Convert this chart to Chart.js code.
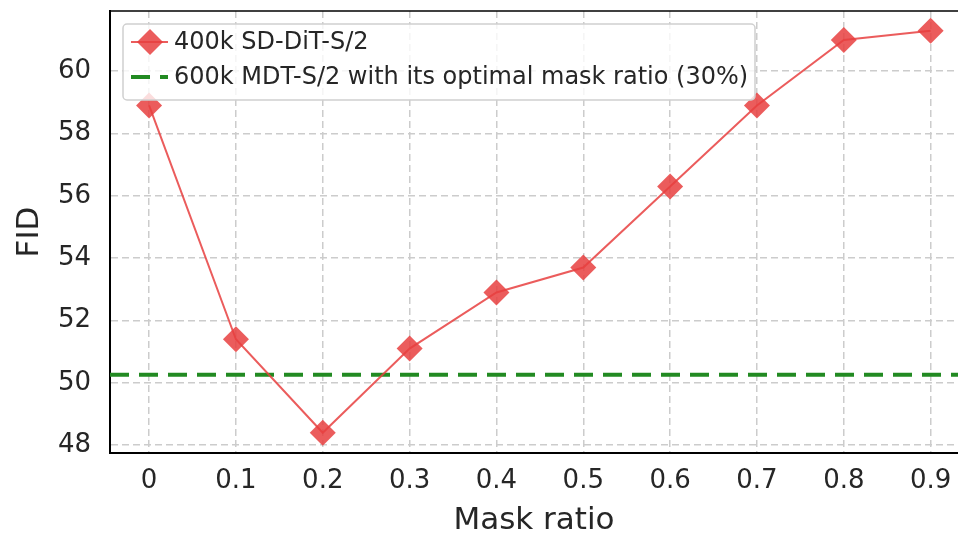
<!DOCTYPE html>
<html lang="en">
<head>
<meta charset="UTF-8">
<title>FID vs mask ratio</title>
<script src="https://cdn.jsdelivr.net/npm/chart.js"></script>
<style>
  html, body { margin: 0; padding: 0; background: #fff; }
  #wrap { width: 958px; height: 536px; }
</style>
</head>
<body>
<div id="wrap"><canvas id="fid-chart" width="958" height="536"></canvas></div>
<script>
// data
const maskRatios = [0, 0.1, 0.2, 0.3, 0.4, 0.5, 0.6, 0.7, 0.8, 0.9];
const sdditFid = [58.9, 51.4, 48.4, 51.1, 52.9, 53.7, 56.3, 58.9, 61.0, 61.3];
const mdtFid = 50.26;
const xTicks = [0, 0.1, 0.2, 0.3, 0.4, 0.5, 0.6, 0.7, 0.8, 0.9];
const yTicks = [48, 50, 52, 54, 56, 58, 60];
const seriesNames = ['400k SD-DiT-S/2', '600k MDT-S/2 with its optimal mask ratio (30%)'];

const X_MIN = -0.045, X_MAX = 0.9315;
const Y_MIN = 47.75, Y_MAX = 61.93;

const red = 'rgba(232, 64, 64, 0.85)';
const green = '#228a22';
const fontFam = '"DejaVu Sans", sans-serif';
const textColor = '#262626';

// top spine + legend box inside the plot
const framePlugin = {
  id: 'frame',
  afterDraw(chart) {
    const ctx = chart.ctx;
    const a = chart.chartArea;
    ctx.save();
    ctx.strokeStyle = '#000';
    ctx.lineWidth = 1.5;
    ctx.beginPath();
    ctx.moveTo(a.left, a.top);
    ctx.lineTo(a.right, a.top);
    ctx.stroke();

    // legend
    const bx = 123, by = 24, bw = 632, bh = 76;
    ctx.fillStyle = 'rgba(255,255,255,0.8)';
    ctx.strokeStyle = '#d0d0d0';
    ctx.lineWidth = 1.5;
    ctx.beginPath();
    ctx.roundRect(bx, by, bw, bh, 4);
    ctx.fill();
    ctx.stroke();

    ctx.font = '24px ' + fontFam;
    ctx.fillStyle = textColor;
    ctx.textBaseline = 'middle';
    const rows = [42, 77];
    ctx.fillText(seriesNames[0], 174, rows[0] + 1);
    ctx.fillText(seriesNames[1], 174, rows[1] + 1);

    // red sample
    ctx.strokeStyle = red;
    ctx.lineWidth = 2;
    ctx.beginPath();
    ctx.moveTo(131, rows[0]);
    ctx.lineTo(168, rows[0]);
    ctx.stroke();
    ctx.fillStyle = red;
    ctx.beginPath();
    ctx.moveTo(150, rows[0] - 13);
    ctx.lineTo(163, rows[0]);
    ctx.lineTo(150, rows[0] + 13);
    ctx.lineTo(137, rows[0]);
    ctx.closePath();
    ctx.fill();

    // green sample
    ctx.strokeStyle = green;
    ctx.lineWidth = 4;
    ctx.setLineDash([19, 10]);
    ctx.beginPath();
    ctx.moveTo(131, rows[1]);
    ctx.lineTo(168, rows[1]);
    ctx.stroke();
    ctx.restore();
  }
};

const config = {
  type: 'line',
  data: {
    datasets: [{
      label: seriesNames[1],
      data: [{ x: X_MIN, y: mdtFid }, { x: X_MAX, y: mdtFid }],
      borderColor: green,
      borderWidth: 4,
      borderDash: [19, 10],
      pointRadius: 0,
      fill: false,
      order: 2
    }, {
      label: seriesNames[0],
      data: maskRatios.map((m, i) => ({ x: m, y: sdditFid[i] })),
      borderColor: red,
      backgroundColor: red,
      borderWidth: 2,
      pointStyle: 'rectRot',
      pointRadius: 13,
      pointBorderWidth: 0,
      fill: false,
      order: 1
    }]
  },
  options: {
    responsive: false,
    animation: false,
    layout: { autoPadding: false, padding: { top: 11, right: 0, left: 0, bottom: 0 } },
    plugins: {
      legend: { display: false },
      tooltip: { enabled: false }
    },
    scales: {
      x: {
        type: 'linear',
        min: X_MIN,
        max: X_MAX,
        afterBuildTicks: s => { s.ticks = xTicks.map(v => ({ value: v })); },
        afterFit: s => { s.height = 83; s.paddingLeft = 0; s.paddingRight = 0; },
        ticks: {
          callback: v => String(Math.round(v * 10) / 10),
          font: { family: fontFam, size: 26 },
          color: textColor,
          padding: 13,
          maxRotation: 0
        },
        grid: { color: '#cccccc', lineWidth: 1.5, drawTicks: false },
        border: { color: '#000', width: 2, dash: [7, 4] },
        title: {
          display: true,
          text: 'Mask ratio',
          font: { family: fontFam, size: 31 },
          color: textColor,
          padding: { top: 0, bottom: -4 }
        }
      },
      y: {
        min: Y_MIN,
        max: Y_MAX,
        afterBuildTicks: s => { s.ticks = yTicks.map(v => ({ value: v })); },
        afterFit: s => { s.width = 110; s.paddingTop = 0; s.paddingBottom = 0; },
        ticks: {
          font: { family: fontFam, size: 26 },
          color: textColor,
          padding: 19
        },
        grid: { color: '#cccccc', lineWidth: 1.5, drawTicks: false },
        border: { color: '#000', width: 2, dash: [7, 4] },
        title: {
          display: true,
          text: 'FID',
          font: { family: fontFam, size: 31 },
          color: textColor,
          padding: { top: 11, bottom: 0 }
        }
      }
    }
  },
  plugins: [framePlugin]
};

new Chart(document.getElementById('fid-chart'), config);
</script>
</body>
</html>
